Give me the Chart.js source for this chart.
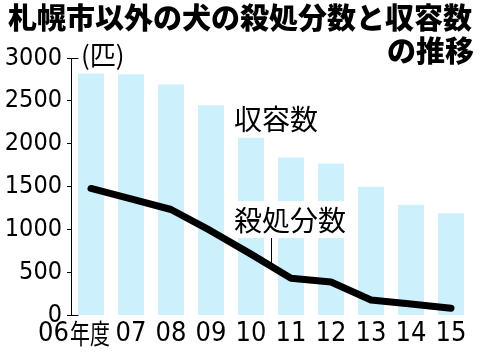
<!DOCTYPE html>
<html>
<head>
<meta charset="utf-8">
<script src="https://cdn.jsdelivr.net/npm/chart.js@4/dist/chart.umd.min.js"></script>
<style>
  html, body { margin: 0; padding: 0; background: #fff; }
  #wrap { width: 500px; height: 354px; position: relative; }
</style>
</head>
<body>
<div id="wrap"><canvas id="c" width="500" height="354"></canvas></div>
<script>
// ---- data ----
const fiscalYears = ['06', '07', '08', '09', '10', '11', '12', '13', '14', '15'];
const firstYearSuffix = '年度';
const shelterCounts = [2820, 2810, 2690, 2450, 2070, 1840, 1770, 1500, 1290, 1190];   // 収容数
const euthanizedCounts = [1480, 1360, 1235, 985, 715, 435, 390, 180, 135, 85];       // 殺処分数
const yTickValues = [0, 500, 1000, 1500, 2000, 2500, 3000];
const titleLine1 = '札幌市以外の犬の殺処分数と収容数';
const titleLine2 = 'の推移';
const unitLabel = '(匹)';
const shelterLabel = '収容数';
const euthLabel = '殺処分数';

const NUM_FONT = "'Liberation Sans Narrow', 'DejaVu Sans Condensed', 'Noto Sans CJK JP', sans-serif";
const JP_FONT = "'Noto Sans CJK JP', sans-serif";

const annotPlugin = {
  id: 'annot',
  afterDatasetDraw(chart, args) {
    if (args.index !== 0) return; // after the bars, before the line
    const ctx = chart.ctx;
    const xs = chart.scales.x;
    const x10 = xs.getPixelForValue(4);
    const x11 = xs.getPixelForValue(5);
    ctx.save();
    // white box behind 殺処分数
    ctx.fillStyle = '#fff';
    ctx.fillRect(x10 - 19, 201, 120, 37);
    ctx.fillStyle = '#000';
    ctx.font = '28px ' + JP_FONT;
    ctx.textBaseline = 'middle';
    ctx.textAlign = 'left';
    ctx.fillText(euthLabel, x10 - 17, 220);
    ctx.fillText(shelterLabel, x10 - 17, 119);
    // leader line
    const lm = chart.getDatasetMeta(1).data;
    const lx = (x10 + x11) / 2;
    const ly = (lm[4].y + lm[5].y) / 2;
    ctx.strokeStyle = '#000';
    ctx.lineWidth = 1;
    ctx.beginPath();
    ctx.moveTo(Math.round(lx) + 0.5, 238);
    ctx.lineTo(Math.round(lx) + 0.5, ly);
    ctx.stroke();
    ctx.restore();
  },
  afterDraw(chart) {
    const ctx = chart.ctx;
    const xs = chart.scales.x;
    const ys = chart.scales.y;
    const area = chart.chartArea;
    ctx.save();
    // title
    ctx.fillStyle = '#000';
    ctx.font = '900 29px ' + JP_FONT;
    ctx.textBaseline = 'middle';
    ctx.textAlign = 'left';
    ctx.fillText(titleLine1, 8, 18);
    ctx.textAlign = 'right';
    ctx.fillText(titleLine2, 474, 51);
    // unit
    ctx.textAlign = 'left';
    ctx.font = '26px ' + JP_FONT;
    ctx.fillText(unitLabel, area.left + 10, 55);
    // inner ticks at top and bottom
    ctx.strokeStyle = '#000';
    ctx.lineWidth = 1;
    const yTop = Math.round(ys.getPixelForValue(3000)) + 0.5;
    const yBot = Math.round(ys.getPixelForValue(0)) - 0.5;
    const ax = Math.round(area.left) + 0.5;
    ctx.beginPath();
    ctx.moveTo(ax, yTop); ctx.lineTo(ax + 7, yTop);
    ctx.moveTo(ax, yBot); ctx.lineTo(ax + 7, yBot);
    ctx.stroke();
    // x labels
    ctx.font = '27px ' + NUM_FONT;
    ctx.textBaseline = 'middle';
    fiscalYears.forEach((lab, i) => {
      const px = xs.getPixelForValue(i);
      if (i === 0) {
        ctx.textAlign = 'left';
        const x0 = px - 53;
        ctx.fillText(lab, x0, 334);
        const w = ctx.measureText(lab).width;
        ctx.save();
        ctx.translate(x0 + w + 1, 334);
        ctx.scale(0.74, 1);
        ctx.font = '27px ' + JP_FONT;
        ctx.fillText(firstYearSuffix, 0, 0);
        ctx.restore();
      } else {
        ctx.textAlign = 'center';
        ctx.fillText(lab, px, 334);
      }
    });
    ctx.restore();
  }
};

new Chart(document.getElementById('c'), {
  type: 'bar',
  data: {
    labels: fiscalYears,
    datasets: [
      {
        type: 'bar',
        label: shelterLabel,
        data: shelterCounts,
        backgroundColor: '#cdf1fc',
        borderWidth: 0,
        barPercentage: 0.65,
        categoryPercentage: 1.0,
        order: 2
      },
      {
        type: 'line',
        label: euthLabel,
        data: euthanizedCounts,
        borderColor: '#000',
        borderWidth: 7,
        borderCapStyle: 'round',
        borderJoinStyle: 'round',
        pointRadius: 0,
        tension: 0,
        fill: false,
        order: 1
      }
    ]
  },
  options: {
    responsive: false,
    animation: false,
    devicePixelRatio: 1,
    layout: { padding: { top: 58, right: 29, bottom: 38.5, left: 0 } },
    plugins: {
      legend: { display: false },
      title: { display: false },
      tooltip: { enabled: false }
    },
    scales: {
      x: {
        offset: true,
        grid: { display: false },
        border: { display: false },
        ticks: { display: false },
        afterFit(s) { s.height = 0; }
      },
      y: {
        min: 0,
        max: 3000,
        afterBuildTicks(s) { s.ticks = yTickValues.map(v => ({ value: v })); },
        grid: { drawOnChartArea: false, drawTicks: true, tickLength: 4, color: '#000', tickColor: '#000' },
        border: { display: true, color: '#000', width: 1 },
        ticks: {
          color: '#000',
          font: { family: NUM_FONT, size: 25 },
          padding: 5,
          callback: v => String(v)
        },
        afterFit(s) { s.width = 71; }
      }
    }
  },
  plugins: [annotPlugin]
});
</script>
</body>
</html>
